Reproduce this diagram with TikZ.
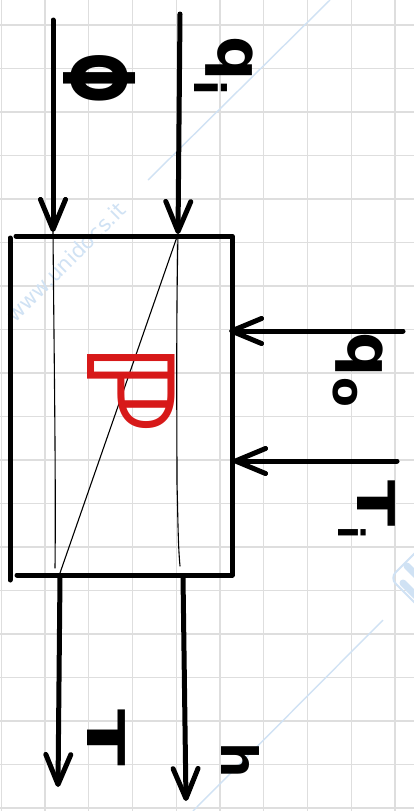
\documentclass[tikz,border=0pt]{standalone}
\usepackage{fontspec}
\usetikzlibrary{arrows.meta}
\newfontfamily\hand{DejaVu Sans}
\definecolor{pen}{RGB}{215,25,25}
\definecolor{gridc}{RGB}{222,222,222}
\definecolor{wmblue}{RGB}{208,226,244}
\begin{document}
\begin{tikzpicture}[x=1pt,y=-1pt,
  ink/.style={line width=5pt, line cap=round, line join=round},
  tipped/.style={ink, -{Straight Barb[length=30pt,width=25pt,round]}},
  fine/.style={line width=1.1pt, line cap=round},
  gridline/.style={draw=gridc, line width=1.2pt},
  wm/.style={draw=wmblue, line width=1.4pt},
  lab/.style={font=\hand\bfseries, rotate=-90, inner sep=0pt}]
\useasboundingbox (0,0) rectangle (414,811);
\fill[white] (0,0) rectangle (414,811);
% grid
\foreach \i in {-1,...,8} \draw[gridline] (45+43.75*\i,0) -- (45+43.75*\i,811);
\foreach \j in {0,...,18} \draw[gridline] (0,25+43.5*\j) -- (414,25+43.5*\j);
% watermark
\draw[wm] (148,180) -- (330,0);
\draw[wm] (383,620) -- (193,811);
\node[text=wmblue, rotate=45, font=\hand\fontsize{21}{21}\selectfont] (wmtext) at (66,262) {www.unidocs.it};
\draw[wm, line width=2pt, rounded corners=8pt] (390,578) -- (425,543) -- (460,578) -- (425,613) -- cycle;
\draw[draw=wmblue, line width=7pt, line cap=round] (407,566) -- (420,579);
\draw[draw=wmblue, line width=7pt, line cap=round] (403,583) -- (416,596);
% coordinates
\coordinate (phiTop) at (53,20);
\coordinate (phiIn) at (53,232);
\coordinate (qiTop) at (180,14);
\coordinate (qiIn) at (178,234);
\coordinate (qoEnd) at (403,331);
\coordinate (qoIn) at (229,331);
\coordinate (TiEnd) at (397,461);
\coordinate (TiIn) at (233,461);
\coordinate (Tout) at (60,576);
\coordinate (Tend) at (58,787);
\coordinate (hout) at (183,576);
\coordinate (hend) at (186,801);
\coordinate (boxTL) at (16,236);
\coordinate (boxTR) at (232,236);
\coordinate (boxBR) at (232,575);
\coordinate (boxBL) at (17,575);
\coordinate (leftTop) at (10,238);
\coordinate (leftBot) at (10,580);
% box
\draw[ink] (boxTL) -- (boxTR) -- (boxBR) -- (boxBL);
\draw[ink] (leftTop) -- (leftBot);
% thin internal lines
\draw[fine] (phiIn) .. controls (54,350) and (56,480) .. (55,568);
\draw[fine] (qiIn) .. controls (176,330) and (177,430) .. (177,483) .. controls (178,520) and (178,545) .. (180,566);
\draw[fine] (qiIn) -- (60,573);
% arrows
\draw[tipped] (phiTop) -- (phiIn);
\draw[tipped] (qiTop) -- (qiIn);
\draw[tipped] (qoEnd) -- (qoIn);
\draw[tipped] (TiEnd) -- (TiIn);
\draw[tipped] (Tout) -- (Tend);
\draw[tipped] (hout) -- (hend);
% labels
\node[lab, font=\hand\bfseries\fontsize{76}{76}\selectfont] (phi) at (100,78) {\scalebox{0.8}[1.3]{Φ}};
\node[lab, font=\hand\bfseries\fontsize{62}{62}\selectfont] (qi) at (224,66) {q\textsubscript{i}};
\node[lab, font=\hand\bfseries\fontsize{62}{62}\selectfont] (qo) at (358,370) {q\textsubscript{o}};
\node[lab, font=\hand\bfseries\fontsize{52}{52}\selectfont] (Ti) at (367,510) {\scalebox{1.3}[1]{T}\textsubscript{i}};
\node[lab, font=\hand\bfseries\fontsize{52}{52}\selectfont] (T) at (106,738) {\scalebox{1.6}[1]{T}};
\node[lab, font=\hand\bfseries\fontsize{50}{50}\selectfont] (h) at (240,760) {h};
\node[lab, text=pen, font=\hand\bfseries\fontsize{120}{120}\selectfont] (P) at (131,388) {ℙ};
\end{tikzpicture}
\end{document}
